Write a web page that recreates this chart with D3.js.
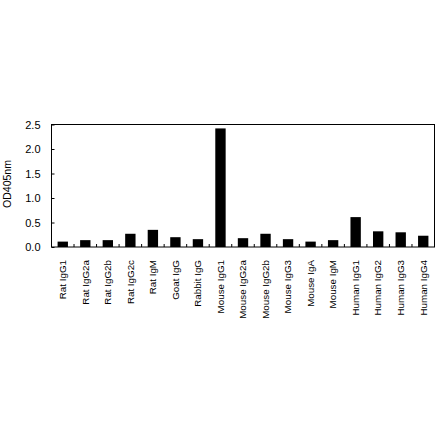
<!DOCTYPE html>
<html><head><meta charset="utf-8">
<script src="https://cdn.jsdelivr.net/npm/d3@7"></script>
<style>body{margin:0;background:#fff}svg{display:block}</style>
</head><body>
<script>
const categories = ["Rat IgG1","Rat IgG2a","Rat IgG2b","Rat IgG2c","Rat IgM","Goat IgG","Rabbit IgG","Mouse IgG1","Mouse IgG2a","Mouse IgG2b","Mouse IgG3","Mouse IgA","Mouse IgM","Human IgG1","Human IgG2","Human IgG3","Human IgG4"];
const values = [0.11,0.14,0.14,0.27,0.35,0.20,0.16,2.42,0.18,0.27,0.16,0.11,0.14,0.61,0.32,0.30,0.23];
const yTicks = [0,0.5,1.0,1.5,2.0,2.5];
const yLabel = "OD405nm";

const W = 440, H = 441;
const m = {left: 51.5, right: 5.5, top: 124.5, plotBottom: 247};
const svg = d3.select("body").append("svg").attr("width", W).attr("height", H)
  .style("font-family", "'Liberation Sans', Arial, sans-serif");

const x = d3.scaleBand().domain(categories).range([m.left, W - m.right]).paddingInner(0.54).paddingOuter(0.27);
const xb = d3.scaleBand().domain(categories).range([m.left, W - m.right]);
const y = d3.scaleLinear().domain([0, 2.5]).range([m.plotBottom, m.top]);

// bars
svg.append("g").selectAll("rect").data(values).join("rect")
  .attr("x", (d, i) => x(categories[i]))
  .attr("width", x.bandwidth())
  .attr("y", d => y(d))
  .attr("height", d => y(0) - y(d))
  .attr("fill", "#000");

// frame
svg.append("rect").attr("x", m.left).attr("y", m.top)
  .attr("width", W - m.right - m.left).attr("height", m.plotBottom - m.top)
  .attr("fill", "none").attr("stroke", "#000").attr("stroke-width", 1);

// y axis
const yAxis = svg.append("g").attr("transform", `translate(${m.left},0)`)
  .call(d3.axisLeft(y).tickValues(yTicks).tickFormat(d3.format(".1f")).tickSizeInner(-3).tickSizeOuter(0).tickPadding(11));
yAxis.select(".domain").remove();
yAxis.selectAll("text").attr("font-size", 11).attr("font-family", "'Liberation Sans', Arial, sans-serif").attr("fill", "#000");
yAxis.selectAll("line").attr("stroke", "#000");

// x axis ticks between bars (boundaries)
const bounds = categories.slice(1).map(c => xb(c));
svg.append("g").selectAll("line").data(bounds).join("line")
  .attr("x1", d => d).attr("x2", d => d)
  .attr("y1", m.plotBottom).attr("y2", m.plotBottom - 3)
  .attr("stroke", "#000");

// x labels
svg.append("g").selectAll("text").data(categories).join("text")
  .attr("transform", d => `translate(${xb(d) + xb.bandwidth()/2 + 3.3},${m.plotBottom + 13}) rotate(-90)`)
  .attr("text-anchor", "end")
  .attr("font-size", 9.8)
  .attr("fill", "#000")
  .text(d => d);

// y label
svg.append("text")
  .attr("transform", `translate(10.5,184) rotate(-90)`)
  .attr("text-anchor", "middle")
  .attr("font-size", 10.5)
  .attr("fill", "#000")
  .text(yLabel);
</script>
</body></html>
